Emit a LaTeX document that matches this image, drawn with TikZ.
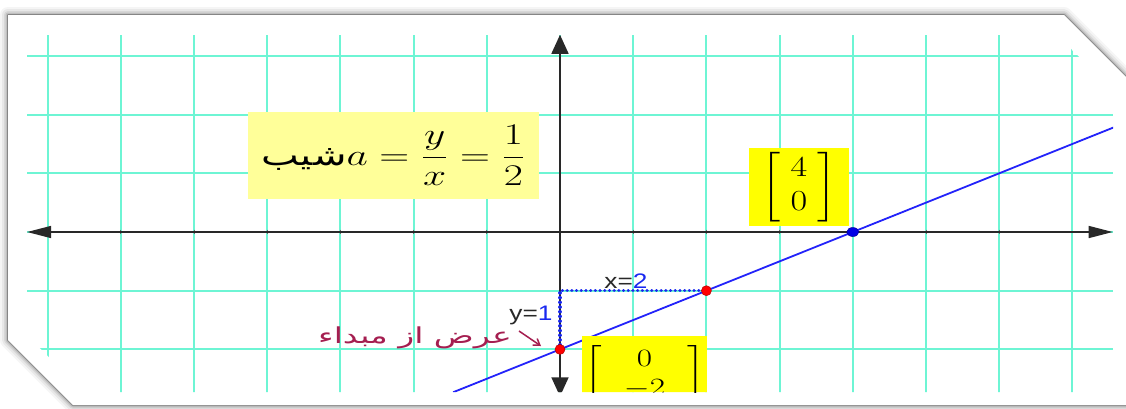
\documentclass[tikz,border=0pt]{standalone}
\usepackage{amsmath}
\usepackage{graphicx}
\usepackage{fontspec}
\setsansfont{Liberation Sans}
\newfontfamily\arabicfont[Script=Arabic]{DejaVu Sans}
\TeXXeTstate=1
\usetikzlibrary{arrows.meta,shapes.geometric}
\definecolor{gridc}{RGB}{110,245,212}
\definecolor{lineblue}{RGB}{35,35,250}
\definecolor{dotblue}{RGB}{25,40,240}
\definecolor{paleyellow}{RGB}{255,255,153}
\definecolor{brightyellow}{RGB}{255,255,0}
\definecolor{crimsonlbl}{RGB}{165,30,80}
\definecolor{axisgray}{RGB}{40,40,40}
\newcommand{\hs}[1]{\scalebox{1.25}[1]{#1}}
\begin{document}
\begin{tikzpicture}[x=1pt,y=-1pt,
  gridline/.style={gridc, line width=2pt},
  axisline/.style={axisgray, line width=1.5pt},
  bluefn/.style={lineblue, line width=1.8pt},
  dotline/.style={dotblue, line width=3.4pt, line cap=round, dash pattern=on 0.1pt off 4.6pt},
  redpt/.style={circle, fill=red, draw=red!70!black, line width=0.5pt, inner sep=0pt, minimum size=10pt},
  bluept/.style={ellipse, fill=blue!90!black, draw=blue!60!black, line width=0.5pt, inner sep=0pt, minimum width=12pt, minimum height=9pt},
  slopebox/.style={fill=paleyellow, inner sep=0pt, minimum width=291pt, minimum height=87pt},
  matbox/.style={fill=brightyellow, inner sep=0pt, minimum height=78pt},
  lbl/.style={font=\sffamily\fontsize{21}{23}\selectfont, inner sep=0pt, text=axisgray},
  framepath/.style={line join=round}
]
\useasboundingbox (0,0) rectangle (1126,408);
\fill[white] (0,0) rectangle (1126,408);
% frame shadow
\foreach \w/\o in {16/0.04,12/0.05,8/0.07,5/0.09,2.5/0.14,1.2/0.3}
  \draw[framepath, line width=\w pt, black, opacity=\o]
    (8,15) -- (1064,15) -- (1170,121) -- (1170,405) -- (73,405) -- (8,340) -- cycle;
\fill[white] (8,15) -- (1064,15) -- (1170,121) -- (1170,405) -- (73,405) -- (8,340) -- cycle;

\begin{scope}
\clip (27,35) -- (1057,35) -- (1113,91) -- (1113,392) -- (84,392) -- (27,335) -- cycle;
\begin{scope}[shift={(560,232)}, x=73.2pt, y=58.7pt]
  \foreach \i in {-7,...,7} \draw[gridline] (\i,-2.75) -- (\i,3.36);
  \foreach \j in {-2,...,3} \draw[gridline] (-7.3,\j) -- (7.56,\j);
  \foreach \i in {-6,...,6} \draw[axisgray!70, line width=0.8pt] (\i,0.04) -- (\i,-0.04);
  \coordinate (xl) at (-7.28,0);
  \coordinate (xr) at (7.55,0);
  \coordinate (yt) at (0,3.36);
  \coordinate (yb) at (0,-2.8);
  \draw[axisline, {Triangle[length=24pt,width=12pt]}-{Triangle[length=24pt,width=12pt]}] (xl) -- (xr);
  \draw[axisline, {Triangle[length=19pt,width=17pt]}-{Triangle[length=19pt,width=17pt]}] (yt) -- (yb);
  \coordinate (fs) at (-1.46,-2.73);
  \coordinate (fe) at (7.56,1.78);
  \draw[bluefn] (fs) -- (fe);
  \coordinate (c01) at (0,-1);
  \coordinate (p0) at (0,-2);
  \coordinate (p1) at (2,-1);
  \coordinate (p2) at (4,0);
  \draw[dotline] (p0) -- (c01) -- (p1);
\end{scope}
\node[slopebox] (slope) at (393.5,155.5) {\scalebox{2.0}[1.45]{\fontsize{20}{24}\selectfont{\arabicfont\beginR شیب\endR}$a=\dfrac{y}{x}=\dfrac{1}{2}$}};
\node[matbox, minimum width=100pt] (m40) at (799,187) {\scalebox{1.75}[1.4]{\fontsize{20}{24}\selectfont\setlength{\arraycolsep}{6pt}$\left[\begin{array}{c}4\\0\end{array}\right]$}};
\node[matbox, minimum width=125pt] (m02) at (644.5,375) {\scalebox{1.6}[1.2]{\fontsize{20}{24}\selectfont\setlength{\arraycolsep}{14pt}$\left[\begin{array}{c}0\\-2\end{array}\right]$}};
\node[redpt] (r0) at (p0) {};
\node[redpt] (r1) at (p1) {};
\node[bluept] (b2) at (p2) {};
\end{scope}

\node[lbl] (xlab) at (626,281) {\hs{x=\textcolor{dotblue}{2}}};
\node[lbl] (ylab) at (531,315) {\hs{y=\textcolor{dotblue}{1}}};
\node[inner sep=0pt, text=crimsonlbl] (arlab) at (415,338) {\scalebox{1.5}[1]{\fontsize{22}{26}\selectfont\arabicfont\beginR عرض از مبداء\endR}};
\coordinate (arA) at (519,331);
\coordinate (arB) at (541,346);
\draw[crimsonlbl, line width=1.5pt, -{Straight Barb[length=6pt,width=8pt]}] (arA) -- (arB);
\end{tikzpicture}
\end{document}
